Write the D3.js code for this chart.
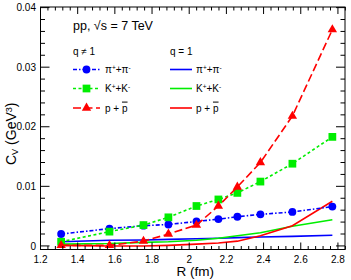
<!DOCTYPE html>
<html>
<head>
<meta charset="utf-8">
<script src="https://cdn.jsdelivr.net/npm/d3@7"></script>
<style>
  body { margin: 0; background: #fff; }
  text { font-family: "Liberation Sans", Arial, sans-serif; fill: #000; }
</style>
</head>
<body>
<svg id="chart" width="351" height="280"></svg>
<script>
// R values (fm) shared by every series
const radius = [1.311, 1.571, 1.754, 1.888, 2.039, 2.157, 2.259, 2.383, 2.555, 2.770];

// q != 1 (markers + dashed lines)
const pionQ = [0.0020, 0.0029, 0.0034, 0.0036, 0.0041, 0.0045, 0.0049, 0.0053, 0.0057, 0.0066];
const kaonQ = [0.0007, 0.0024, 0.0035, 0.0048, 0.0067, 0.0078, 0.0089, 0.0108, 0.0138, 0.0183];
const protonQ = [0.0001, 0.0001, 0.0008, 0.0020, 0.0035, 0.0067, 0.0099, 0.0140, 0.0218, 0.0363];

// q = 1 (solid lines)
const pionBG = [0.0007, 0.00095, 0.0010, 0.0011, 0.0012, 0.0013, 0.0014, 0.0015, 0.0016, 0.0018];
const kaonBG = [0.0003, 0.0004, 0.0006, 0.0007, 0.00095, 0.0013, 0.0017, 0.0022, 0.0033, 0.0044];
const protonBG = [0.0001, 0.0000, 0.0000, 0.0001, 0.0003, 0.0005, 0.0008, 0.0017, 0.0034, 0.0075];

const yTicks = [0, 0.01, 0.02, 0.03, 0.04];
const xTicks = [1.2, 1.4, 1.6, 1.8, 2.0, 2.2, 2.4, 2.6, 2.8];

// label pieces: [text, "sup" | "sub" | "bar" | ""]
const pionLabel = [["π", ""], ["+", "sup"], ["+", ""], ["π", ""], ["-", "sup"]];
const kaonLabel = [["K", ""], ["+", "sup"], ["+", ""], ["K", ""], ["-", "sup"]];
const protonLabel = [["p + ", ""], ["p", "bar"]];

const svg = d3.select("#chart");
const plotLeft = 40.5, plotRight = 345, plotTop = 7, plotBottom = 249.5;

const x = d3.scaleLinear().domain([1.2, 2.838]).range([plotLeft, plotRight]);
const y = d3.scaleLinear().domain([-0.0006, 0.0401]).range([plotBottom, plotTop]);

// Write a label made of normal / super / sub / barred pieces
function richText(sel, parts, size) {
  parts.forEach(function(p) {
    const t = sel.append("tspan").text(p[0]);
    if (p[1] === "sup") t.attr("font-size", size * 0.65).attr("baseline-shift", "40%");
    if (p[1] === "sub") t.attr("font-size", size * 0.65).attr("baseline-shift", "-25%");
    if (p[1] === "bar") t.style("text-decoration", "overline");
  });
  return sel;
}

const series = [
  { vals: pionQ, color: "#0000ff", dash: "4,2,1.5,2", marker: d3.symbolCircle, size: 48, label: pionLabel },
  { vals: kaonQ, color: "#00ee00", dash: "3,2.5", marker: d3.symbolSquare, size: 60, label: kaonLabel },
  { vals: protonQ, color: "#ff0000", dash: "8,3.5", marker: d3.symbolTriangle, size: 38, label: protonLabel }
];
const curves = [
  { vals: pionBG, color: "#0000ff", label: pionLabel },
  { vals: kaonBG, color: "#00ee00", label: kaonLabel },
  { vals: protonBG, color: "#ff0000", label: protonLabel }
];

const line = d3.line()
  .x(function(d, i) { return x(radius[i]); })
  .y(function(d) { return y(d); });

// Solid q = 1 curves
svg.selectAll("path.curve")
  .data(curves)
  .enter()
  .append("path")
  .attr("class", "curve")
  .attr("d", function(d) { return line(d.vals); })
  .attr("fill", "none")
  .attr("stroke", function(d) { return d.color; })
  .attr("stroke-width", 1.6);

// Dashed q != 1 lines and markers
series.forEach(function(s) {
  svg.append("path")
    .attr("d", line(s.vals))
    .attr("fill", "none")
    .attr("stroke", s.color)
    .attr("stroke-width", 1.6)
    .attr("stroke-dasharray", s.dash);
  svg.selectAll(null)
    .data(s.vals)
    .enter()
    .append("path")
    .attr("d", d3.symbol().type(s.marker).size(s.size))
    .attr("transform", function(d, i) { return "translate(" + x(radius[i]) + "," + y(d) + ")"; })
    .attr("fill", s.color);
});

// Frame
svg.append("rect")
  .attr("x", plotLeft).attr("y", plotTop)
  .attr("width", plotRight - plotLeft).attr("height", plotBottom - plotTop)
  .attr("fill", "none").attr("stroke", "#000").attr("stroke-width", 1);

// Ticks on all four sides, pointing inward
const yMinor = d3.range(0, 0.0401, 0.002);
const xMinor = d3.range(1.2, 2.841, 0.04);
const tickG = svg.append("g").attr("stroke", "#000").attr("stroke-width", 1);
yMinor.forEach(function(v) {
  const major = Math.abs(v / 0.01 - Math.round(v / 0.01)) < 1e-6;
  const len = major ? 9 : 4.5;
  tickG.append("line").attr("x1", plotLeft).attr("x2", plotLeft + len).attr("y1", y(v)).attr("y2", y(v));
  tickG.append("line").attr("x1", plotRight).attr("x2", plotRight - len).attr("y1", y(v)).attr("y2", y(v));
});
xMinor.forEach(function(v) {
  const major = Math.abs(v / 0.2 - Math.round(v / 0.2)) < 1e-6;
  const len = major ? 7 : 3.5;
  tickG.append("line").attr("x1", x(v)).attr("x2", x(v)).attr("y1", plotBottom).attr("y2", plotBottom - len);
  tickG.append("line").attr("x1", x(v)).attr("x2", x(v)).attr("y1", plotTop).attr("y2", plotTop + len);
});

// Tick labels
svg.selectAll("text.ylab")
  .data(yTicks)
  .enter()
  .append("text")
  .attr("x", 36)
  .attr("y", function(d) { return y(d) + 3.6; })
  .attr("text-anchor", "end")
  .attr("font-size", 10)
  .text(function(d) { return String(+d.toFixed(2)); });

svg.selectAll("text.xlab")
  .data(xTicks)
  .enter()
  .append("text")
  .attr("x", function(d) { return x(d); })
  .attr("y", 262.5)
  .attr("text-anchor", "middle")
  .attr("font-size", 10)
  .text(function(d) { return String(+d.toFixed(1)); });

// Axis titles
svg.append("text")
  .attr("x", 214).attr("y", 276)
  .attr("text-anchor", "end")
  .attr("font-size", 13.5)
  .text("R (fm)");

richText(
  svg.append("text")
    .attr("transform", "translate(16,165) rotate(-90)")
    .attr("font-size", 14),
  [["C", ""], ["V", "sub"], [" (GeV", ""], ["3", "sup"], [")", ""]], 14);

// Legend
svg.append("text")
  .attr("x", 73).attr("y", 29.5)
  .attr("font-size", 12.5)
  .text("pp, √s = 7 TeV");

svg.append("text").attr("x", 73).attr("y", 54.5).attr("font-size", 10).text("q ≠ 1");
svg.append("text").attr("x", 170).attr("y", 54.5).attr("font-size", 10).text("q = 1");

const rowY = [69.5, 88.5, 108];
series.forEach(function(s, i) {
  svg.append("line")
    .attr("x1", 73).attr("x2", 100)
    .attr("y1", rowY[i]).attr("y2", rowY[i])
    .attr("stroke", s.color).attr("stroke-width", 1.6)
    .attr("stroke-dasharray", s.dash);
  svg.append("path")
    .attr("d", d3.symbol().type(s.marker).size(s.size))
    .attr("transform", "translate(86.5," + rowY[i] + ")")
    .attr("fill", s.color);
  richText(svg.append("text").attr("x", 105).attr("y", rowY[i] + 3.6).attr("font-size", 10), s.label, 10);
});
curves.forEach(function(c, i) {
  svg.append("line")
    .attr("x1", 170).attr("x2", 192)
    .attr("y1", rowY[i]).attr("y2", rowY[i])
    .attr("stroke", c.color).attr("stroke-width", 1.6);
  richText(svg.append("text").attr("x", 196).attr("y", rowY[i] + 3.6).attr("font-size", 10), c.label, 10);
});
</script>
</body>
</html>
